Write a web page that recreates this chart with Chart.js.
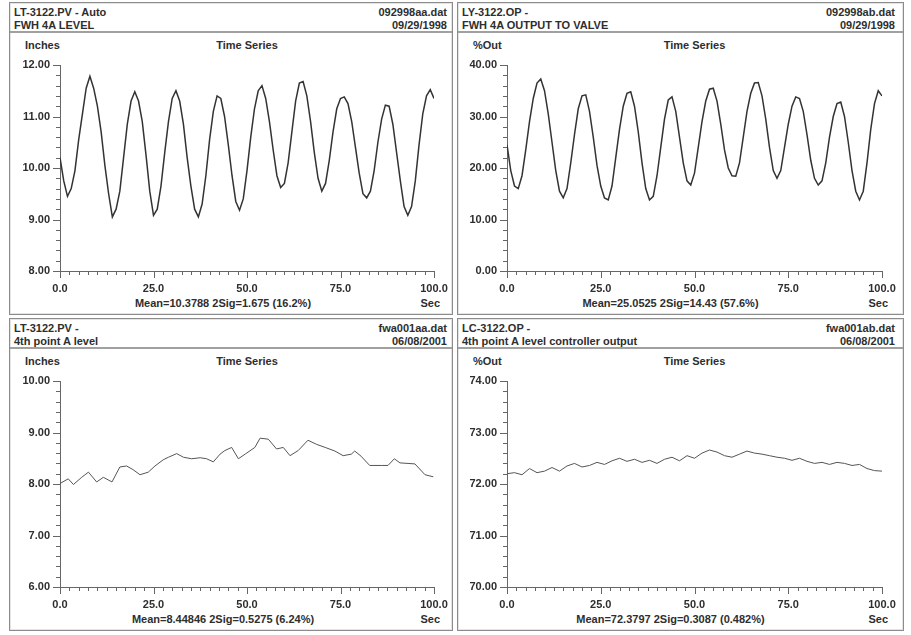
<!DOCTYPE html>
<html>
<head>
<meta charset="utf-8">
<script src="https://cdn.jsdelivr.net/npm/chart.js@4.4.1/dist/chart.umd.min.js"></script>
<style>
  html, body { margin:0; padding:0; background:#fff; }
  body { width:911px; height:635px; position:relative; overflow:hidden;
         font: bold 11px "Liberation Sans", Arial, sans-serif; color:#2e2e2e; }
  .panel { position:absolute; border:1px solid #8c8c8c; box-shadow: inset 0 0 0 1px #e4e4e4; box-sizing:border-box; }
  .hdr { position:absolute; left:0; right:0; top:0; height:28px; border-bottom:2px solid #a0a0a0; }
  .t { position:absolute; white-space:nowrap; line-height:12px; }
  canvas { position:absolute; }
</style>
</head>
<body>
<script>
// sample times (sec) for the two 1998 traces
const secTop = [0,1,2,3,4,5,6,7,8,9,10,11,12,13,14,15,16,17,18,19,20,21,22,23,24,25,26,27,28,29,30,
  31,32,33,34,35,36,37,38,39,40,41,42,43,44,45,46,47,48,49,50,51,52,53,54,55,56,57,58,59,60,
  61,62,63,64,65,66,67,68,69,70,71,72,73,74,75,76,77,78,79,80,81,82,83,84,85,86,87,88,89,90,
  91,92,93,94,95,96,97,98,99,100];

// LT-3122.PV level, inches
const levelA = [10.20,9.75,9.45,9.60,9.95,10.55,11.05,11.55,11.78,11.55,11.20,10.70,10.05,9.50,9.05,
  9.20,9.55,10.20,10.85,11.30,11.48,11.30,10.90,10.25,9.55,9.08,9.20,9.65,10.30,10.90,11.35,
  11.50,11.30,10.85,10.20,9.65,9.20,9.05,9.30,9.85,10.55,11.10,11.40,11.35,11.00,10.45,9.85,
  9.35,9.18,9.40,9.95,10.60,11.15,11.50,11.60,11.35,10.90,10.35,9.85,9.62,9.70,10.10,10.70,
  11.30,11.65,11.68,11.40,10.90,10.30,9.80,9.55,9.70,10.15,10.70,11.15,11.35,11.38,11.25,10.90,
  10.40,9.90,9.50,9.42,9.55,9.95,10.50,10.95,11.22,11.20,10.85,10.30,9.75,9.25,9.08,9.25,9.75,
  10.45,11.05,11.40,11.52,11.35];

// LY-3122.OP output, %
const outA = [24.5,19.5,16.5,16.0,18.5,23.5,29.0,33.5,36.5,37.3,35.0,30.5,25.0,19.5,15.5,14.2,16.0,
  21.0,26.5,31.5,34.0,34.2,31.0,26.0,20.5,16.5,14.2,13.8,16.5,22.0,27.5,32.0,34.5,34.8,32.0,27.0,
  21.0,16.0,13.8,14.5,18.5,24.0,29.5,33.2,33.8,31.0,26.0,21.0,17.5,16.7,19.0,24.0,29.0,33.0,35.3,
  35.5,33.0,28.5,23.5,20.0,18.5,18.4,21.0,26.0,31.0,34.5,36.5,36.6,34.0,29.5,24.0,19.5,18.0,19.5,
  24.0,28.5,32.0,33.8,33.5,31.0,26.5,21.5,18.0,16.7,17.5,21.0,26.0,30.0,32.5,32.8,30.0,25.0,19.5,
  15.5,13.8,15.5,21.0,27.5,32.5,35.0,34.0];

// 2001 level trace
const secB = [0,2.2,3.6,5.8,7.6,9.8,11.6,13.9,16,17.8,19.5,21.4,23.6,25.4,27.6,29,31.2,33,35.2,37.5,
  39.2,41,42.8,44.1,45.9,47.7,49.5,52.1,53.5,55.7,57.9,59.7,61.5,63.7,66.3,68.6,70.9,73.5,75.7,
  77.9,78.8,80.5,82.8,85.9,87.7,89.4,90.9,94.9,97.6,99.8];
const levelB = [8.01,8.10,7.99,8.13,8.23,8.04,8.13,8.04,8.33,8.35,8.28,8.18,8.23,8.35,8.47,8.52,8.59,
  8.52,8.49,8.51,8.49,8.43,8.58,8.65,8.71,8.49,8.58,8.71,8.89,8.87,8.68,8.71,8.55,8.65,8.85,8.77,
  8.71,8.64,8.55,8.58,8.64,8.54,8.36,8.36,8.36,8.49,8.41,8.39,8.18,8.14];

// 2001 controller output trace
const secC = [0,2,4,6,8,10,12,14,16,18,20,22,24,26,28,30,32,34,36,38,40,42,44,46,48,50,
  52,54,56,58,60,62,64,66,68,70,72,74,76,78,80,82,84,86,88,90,92,94,96,98,100];
const outB = [72.20,72.22,72.18,72.30,72.22,72.25,72.32,72.25,72.35,72.40,72.33,72.36,72.42,72.38,
  72.45,72.50,72.44,72.48,72.42,72.46,72.40,72.48,72.52,72.45,72.55,72.50,72.60,72.66,72.62,72.55,
  72.52,72.58,72.64,72.60,72.58,72.55,72.52,72.50,72.46,72.50,72.44,72.40,72.42,72.38,72.42,72.40,
  72.36,72.38,72.30,72.26,72.25];

const xTicks = [0, 25, 50, 75, 100];

const panels = [
  { L:9,   T:2,   W:444, tag:"LT-3122.PV - Auto", file:"092998aa.dat", desc:"FWH 4A LEVEL", date:"09/29/1998",
    unit:"Inches", t:secTop, v:levelA, yTicks:[8,9,10,11,12], plotL:60, plotR:434,
    stats:"Mean=10.3788  2Sig=1.675  (16.2%)", line:"#333", lw:1.5 },
  { L:457, T:2,   W:447, tag:"LY-3122.OP -", file:"092998ab.dat", desc:"FWH 4A OUTPUT TO VALVE", date:"09/29/1998",
    unit:"%Out", t:secTop, v:outA, yTicks:[0,10,20,30,40], plotL:507, plotR:882,
    stats:"Mean=25.0525  2Sig=14.43  (57.6%)", line:"#333", lw:1.5 },
  { L:9,   T:318, W:444, tag:"LT-3122.PV -", file:"fwa001aa.dat", desc:"4th point A level", date:"06/08/2001",
    unit:"Inches", t:secB, v:levelB, yTicks:[6,7,8,9,10], plotL:60, plotR:434,
    stats:"Mean=8.44846  2Sig=0.5275  (6.24%)", line:"#555", lw:1 },
  { L:457, T:318, W:447, tag:"LC-3122.OP -", file:"fwa001ab.dat", desc:"4th point A level controller output", date:"06/08/2001",
    unit:"%Out", t:secC, v:outB, yTicks:[70,71,72,73,74], plotL:507, plotR:882,
    stats:"Mean=72.3797  2Sig=0.3087  (0.482%)", line:"#555", lw:1 }
];

const tickFont = { family: "'Liberation Sans', Arial, sans-serif", size: 11, weight: "bold" };
const axisColor = "#666";

// minor/major tick marks drawn off the chart's own scales
const tickMarks = {
  id: "tickMarks",
  afterDraw(chart) {
    const { ctx } = chart;
    const xs = chart.scales.x, ys = chart.scales.y;
    ctx.save();
    ctx.strokeStyle = axisColor;
    ctx.lineWidth = 1;
    ctx.beginPath();
    for (let i = 0; i <= 40; i++) {
      const px = Math.round(xs.getPixelForValue(i * 2.5)) + 0.5;
      const len = i % 10 === 0 ? 7 : 4;
      ctx.moveTo(px, ys.bottom);
      ctx.lineTo(px, ys.bottom + len);
    }
    const step = (ys.max - ys.min) / 20;
    for (let j = 0; j <= 20; j++) {
      const py = Math.round(ys.getPixelForValue(ys.min + j * step)) + 0.5;
      const len = j % 5 === 0 ? 7 : 4;
      ctx.moveTo(xs.left, py);
      ctx.lineTo(xs.left - len, py);
    }
    ctx.stroke();
    ctx.restore();
  }
};

function addText(parent, txt, css) {
  const d = document.createElement("div");
  d.className = "t";
  d.textContent = txt;
  Object.assign(d.style, css);
  parent.appendChild(d);
  return d;
}

function drawPanel(p) {
  const box = document.createElement("div");
  box.className = "panel";
  Object.assign(box.style, { left: p.L + "px", top: p.T + "px", width: p.W + "px", height: "313px" });
  document.body.appendChild(box);

  const hdr = document.createElement("div");
  hdr.className = "hdr";
  box.appendChild(hdr);

  const inner = p.W - 2;
  const x0 = p.L + 1;           // page x of inner box
  const rightGap = (p.L + p.W) - p.plotR - 14;
  addText(box, p.tag,  { left: "4px", top: "3px" });
  addText(box, p.file, { right: rightGap + "px", top: "3px" });
  addText(box, p.desc, { left: "4px", top: "16px" });
  addText(box, p.date, { right: rightGap + "px", top: "16px" });

  addText(box, p.unit, { left: "15px", top: "36px" });
  const mid = (p.plotL + p.plotR) / 2 - x0;
  addText(box, "Time Series", { left: (mid - 100) + "px", width: "200px", textAlign: "center", top: "36px" });
  addText(box, p.stats, { left: (mid - 24 - 150) + "px", width: "300px", textAlign: "center", top: "294px" });
  addText(box, "Sec", { left: (p.plotR + 6 - x0 - 40) + "px", width: "40px", textAlign: "right", top: "294px" });

  const cv = document.createElement("canvas");
  cv.width = inner; cv.height = 250;
  Object.assign(cv.style, { left: "0px", top: "49px", width: inner + "px", height: "250px" });
  box.appendChild(cv);

  const yMin = p.yTicks[0], yMax = p.yTicks[p.yTicks.length - 1];
  new Chart(cv, {
    type: "line",
    data: {
      datasets: [{
        data: p.t.map((x, i) => ({ x, y: p.v[i] })),
        borderColor: p.line,
        borderWidth: p.lw,
        pointRadius: 0,
        tension: 0,
        fill: false
      }]
    },
    options: {
      responsive: false,
      animation: false,
      events: [],
      layout: { padding: { left: 0, right: inner - (p.plotR - x0), top: 13, bottom: 0 } },
      plugins: { legend: { display: false }, tooltip: { enabled: false } },
      scales: {
        x: {
          type: "linear", min: 0, max: 100,
          afterBuildTicks: s => { s.ticks = xTicks.map(v => ({ value: v })); },
          ticks: { callback: v => v.toFixed(1), padding: 11, font: tickFont, color: "#2e2e2e", maxRotation: 0, autoSkip: false },
          grid: { drawOnChartArea: false, drawTicks: false },
          border: { color: axisColor },
          afterFit: s => { s.height = 31; s.paddingLeft = 0; s.paddingRight = 0; }
        },
        y: {
          min: yMin, max: yMax,
          afterBuildTicks: s => { s.ticks = p.yTicks.map(v => ({ value: v })); },
          ticks: { callback: v => v.toFixed(2), padding: 10, font: tickFont, color: "#2e2e2e", autoSkip: false },
          grid: { drawOnChartArea: false, drawTicks: false },
          border: { color: axisColor },
          afterFit: s => { s.width = p.plotL - x0; s.paddingTop = 0; s.paddingBottom = 0; }
        }
      }
    },
    plugins: [tickMarks]
  });
}

panels.forEach(drawPanel);
</script>
</body>
</html>
